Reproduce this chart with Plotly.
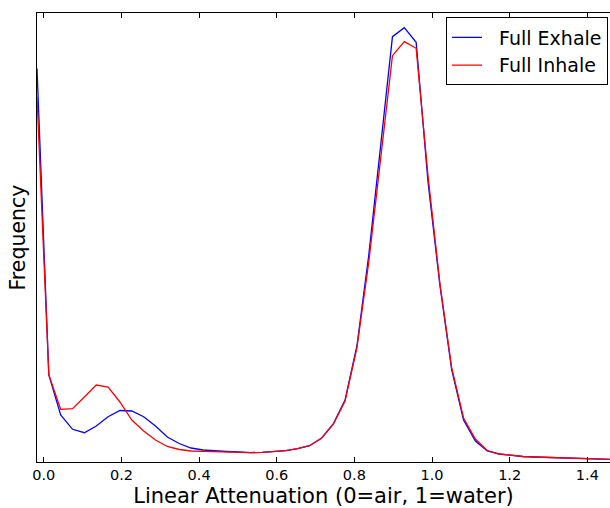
import plotly.graph_objects as go

# Bin centres (linear attenuation, 0=air, 1=water)
attenuation = [-0.0175, 0.0130, 0.0435, 0.0741, 0.1046, 0.1351, 0.1656, 0.1961, 0.2267, 0.2572,
               0.2877, 0.3182, 0.3487, 0.3793, 0.4098, 0.4403, 0.4708, 0.5013, 0.5319, 0.5624,
               0.5929, 0.6234, 0.6539, 0.6845, 0.7150, 0.7455, 0.7760, 0.8065, 0.8371, 0.8676,
               0.8981, 0.9286, 0.9591, 0.9897, 1.0202, 1.0507, 1.0812, 1.1117, 1.1423, 1.1728,
               1.2033, 1.2338, 1.2643, 1.2949, 1.3254, 1.3559, 1.3864, 1.4169, 1.4475, 1.4780]

full_exhale = [393.5, 87, 47, 32.7, 29.3, 36, 45.3, 51.5, 51, 45.3,
               36, 25, 18.5, 14, 12, 11, 10.5, 10, 9.3, 9.7,
               10.3, 11.3, 13.3, 16.3, 23.7, 38, 62, 116, 207, 317,
               425.3, 434.3, 419.7, 280, 177, 92, 42, 21, 11, 8,
               6.5, 5.5, 5, 4.5, 4, 3.5, 3, 2.7, 2.5, 2.3]

full_inhale = [365, 87, 52.7, 53.3, 65, 77, 75, 60, 42, 31,
               22, 15.5, 12.5, 11, 10.7, 10.2, 10, 9.7, 9.3, 9.7,
               10.3, 11.3, 13.3, 16.3, 23.7, 37.5, 61, 114, 200, 304,
               406.3, 420.3, 413.7, 286, 179, 94, 44, 23, 11.5, 8,
               6.5, 5.5, 5, 4.5, 4, 3.5, 3, 2.7, 2.5, 2.3]

series_names = ["Full Exhale", "Full Inhale"]

x_ticks = [0.0, 0.2, 0.4, 0.6, 0.8, 1.0, 1.2, 1.4]
x_tick_labels = ["0.0", "0.2", "0.4", "0.6", "0.8", "1.0", "1.2", "1.4"]

FONT = "DejaVu Sans"
GAP = "\u00a0\u00a0"  # gap between legend line sample and its label

fig = go.Figure()
fig.add_trace(go.Scatter(x=attenuation, y=full_exhale, mode="lines", name=GAP + series_names[0],
                         line=dict(color="#0000ff", width=1.3)))
fig.add_trace(go.Scatter(x=attenuation, y=full_inhale, mode="lines", name=GAP + series_names[1],
                         line=dict(color="#ff0000", width=1.3)))

fig.update_layout(
    width=610, height=508,
    margin=dict(l=37, r=0, t=13, b=46),
    paper_bgcolor="white", plot_bgcolor="white",
    font=dict(family=FONT, color="black"),
    showlegend=True,
    legend=dict(x=0.9965, xanchor="right", y=0.99, yanchor="top",
                bgcolor="white", bordercolor="black", borderwidth=1,
                font=dict(family=FONT, size=19, color="black"),
                tracegroupgap=0, itemwidth=30),
)
fig.update_xaxes(
    range=[-0.0175, 1.4584], tickvals=x_ticks, ticktext=x_tick_labels,
    showgrid=False, zeroline=False, showline=True, linecolor="black", linewidth=1,
    mirror="ticks", ticks="inside", ticklen=5, tickcolor="black", tickwidth=1,
    tickfont=dict(family=FONT, size=14.5, color="black"),
    title=dict(text="Linear Attenuation (0=air, 1=water)", font=dict(family=FONT, size=21, color="black"),
               standoff=5),
)
fig.update_yaxes(
    range=[0, 449], showticklabels=False, ticks="",
    showgrid=False, zeroline=False, showline=True, linecolor="black", linewidth=1,
    title=dict(text="Frequency", font=dict(family=FONT, size=20.5, color="black"), standoff=4),
)

fig.write_html("out.html")
